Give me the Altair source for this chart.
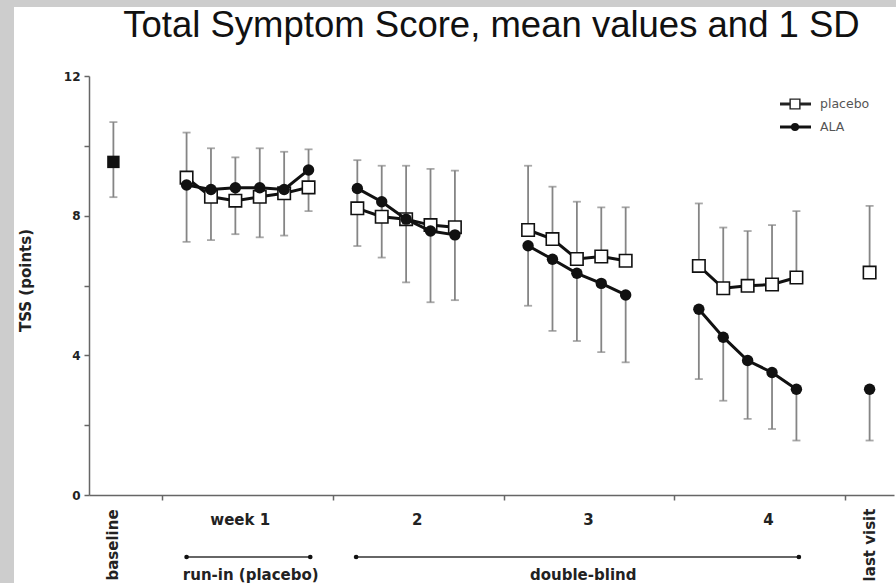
import altair as alt
import pandas as pd

# ---------------- data ----------------
days = [1, 2, 3, 4, 5, 6, 8, 9, 10, 11, 12, 15, 16, 17, 18, 19, 22, 23, 24, 25, 26, 29]
segment = [1] * 6 + [2] * 5 + [3] * 5 + [4] * 5 + [5]
placebo_mean = [9.09, 8.54, 8.43, 8.54, 8.64, 8.81, 8.21, 7.97, 7.90, 7.73, 7.67,
                7.59, 7.33, 6.76, 6.83, 6.71, 6.56, 5.92, 5.99, 6.03, 6.23, 6.37]
placebo_upper = [10.38, 9.93, 9.67, 9.93, 9.83, 9.90, 9.59, 9.43, 9.43, 9.34, 9.29,
                 9.43, 8.83, 8.40, 8.24, 8.24, 8.35, 7.66, 7.56, 7.73, 8.13, 8.28]
ala_mean = [8.88, 8.75, 8.80, 8.80, 8.75, 9.31, 8.78, 8.40, 7.90, 7.56, 7.45,
            7.14, 6.75, 6.35, 6.06, 5.73, 5.32, 4.52, 3.85, 3.51, 3.03, 3.03]
ala_lower = [7.25, 7.30, 7.47, 7.38, 7.43, 8.13, 7.13, 6.80, 6.09, 5.52, 5.58,
             5.42, 4.70, 4.41, 4.09, 3.80, 3.32, 2.70, 2.18, 1.89, 1.56, 1.56]

baseline_day = [-2]
baseline_mean = [9.54]
baseline_upper = [10.68]
baseline_lower = [8.53]

week_labels = ["week 1", "2", "3", "4"]
week_label_pos = [3.2, 10.45, 17.47, 24.85]
rot_labels = ["baseline", "last visit"]
rot_label_pos = [-2, 29]
period_names = ["run-in (placebo)", "double-blind"]
period_start = [1.0, 7.95]
period_end = [6.07, 26.1]
period_label_pos = [3.63, 17.26]

legend_names = ["placebo", "ALA"]
title_text = "Total Symptom Score, mean values and 1 SD"

# ---------------- tables ----------------
df_p = pd.DataFrame({"day": days, "mean": placebo_mean, "upper": placebo_upper, "seg": segment})
df_a = pd.DataFrame({"day": days, "mean": ala_mean, "lower": ala_lower, "seg": segment})
df_b = pd.DataFrame({"day": baseline_day, "mean": baseline_mean,
                     "upper": baseline_upper, "lower": baseline_lower})
df_w = pd.DataFrame({"pos": week_label_pos, "label": week_labels})
df_r = pd.DataFrame({"pos": rot_label_pos, "label": rot_labels})
df_per = pd.DataFrame({"start": period_start, "end": period_end,
                       "mid": period_label_pos, "name": period_names})
df_per_ends = pd.DataFrame({"pos": period_start + period_end})
df_one = pd.DataFrame({"a": [0]})
df_leg = pd.DataFrame({"name": legend_names})

BOLD = "DejaVu Sans"
ERR = "#858585"

xscale = alt.Scale(domain=[-3, 30], nice=False, zero=False)
yscale = alt.Scale(domain=[0, 12], nice=False, zero=False)

x_axis = alt.Axis(values=[0, 7, 14, 21, 28], labels=False, title=None, grid=False,
                  domainColor="#666666", domainWidth=1.5, tickColor="#666666",
                  tickSize=5, tickWidth=1.5, zindex=1)
y_axis = alt.Axis(values=[0, 2, 4, 6, 8, 10, 12],
                  labelExpr="datum.value % 4 == 0 ? datum.label : ''",
                  title="TSS (points)", grid=False, zindex=1,
                  domainColor="#666666", domainWidth=1.5, tickColor="#666666",
                  tickSize=5, tickWidth=1.5,
                  labelFont=BOLD, labelFontWeight="bold", labelFontSize=12,
                  labelColor="#222222", labelPadding=4,
                  titleFont=BOLD, titleFontWeight="bold", titleFontSize=15,
                  titleColor="#222222", titleX=-64, titleY=204, titleAngle=270,
                  titleAlign="center", titleBaseline="middle")

# white panel behind the figure
panel = alt.Chart(df_one).mark_rect(color="white").encode(
    x=alt.value(-75), x2=alt.value(807), y=alt.value(-69), y2=alt.value(507))

# error bars
p_err = alt.Chart(df_p).mark_rule(color=ERR, strokeWidth=1.8).encode(
    x=alt.X("day:Q", scale=xscale, axis=x_axis),
    y=alt.Y("mean:Q", scale=yscale, axis=y_axis),
    y2="upper:Q")
p_cap = alt.Chart(df_p).mark_tick(color=ERR, orient="horizontal", size=8, thickness=1.8).encode(
    x="day:Q", y="upper:Q")
a_err = alt.Chart(df_a).mark_rule(color=ERR, strokeWidth=1.8).encode(
    x="day:Q", y="lower:Q", y2="mean:Q")
a_cap = alt.Chart(df_a).mark_tick(color=ERR, orient="horizontal", size=8, thickness=1.8).encode(
    x="day:Q", y="lower:Q")
b_err = alt.Chart(df_b).mark_rule(color=ERR, strokeWidth=1.8).encode(
    x="day:Q", y="lower:Q", y2="upper:Q")
b_cap1 = alt.Chart(df_b).mark_tick(color=ERR, orient="horizontal", size=8, thickness=1.8).encode(
    x="day:Q", y="upper:Q")
b_cap2 = alt.Chart(df_b).mark_tick(color=ERR, orient="horizontal", size=8, thickness=1.8).encode(
    x="day:Q", y="lower:Q")

# series
p_line = alt.Chart(df_p).mark_line(color="#111111", strokeWidth=3).encode(
    x="day:Q", y="mean:Q", detail="seg:N")
p_pts = alt.Chart(df_p).mark_point(shape="square", filled=True, fill="white", stroke="#111111",
                                   strokeWidth=1.6, size=155, opacity=1).encode(
    x="day:Q", y="mean:Q")
a_line = alt.Chart(df_a).mark_line(color="#111111", strokeWidth=3).encode(
    x="day:Q", y="mean:Q", detail="seg:N")
a_pts = alt.Chart(df_a).mark_point(shape="circle", filled=True, color="#111111",
                                   size=130, opacity=1).encode(
    x="day:Q", y="mean:Q")
b_pts = alt.Chart(df_b).mark_point(shape="square", filled=True, color="#111111",
                                   size=155, opacity=1).encode(
    x="day:Q", y="mean:Q")

# category labels under the axis
wk_text = alt.Chart(df_w).mark_text(font=BOLD, fontWeight="bold", fontSize=15, color="#222222",
                                    align="center", baseline="alphabetic").encode(
    x="pos:Q", y=alt.value(449), text="label:N")
rot_text = alt.Chart(df_r).mark_text(font=BOLD, fontWeight="bold", fontSize=15, color="#222222",
                                     align="center", baseline="middle", angle=270).encode(
    x="pos:Q", y=alt.value(469), text="label:N")
per_rule = alt.Chart(df_per).mark_rule(color="#333333", strokeWidth=1.3).encode(
    x="start:Q", x2="end:Q", y=alt.value(481))
per_dots = alt.Chart(df_per_ends).mark_point(shape="circle", filled=True, color="#111111",
                                             size=22, opacity=1).encode(
    x="pos:Q", y=alt.value(481))
per_text = alt.Chart(df_per).mark_text(font=BOLD, fontWeight="bold", fontSize=15, color="#222222",
                                       align="center", baseline="alphabetic").encode(
    x="mid:Q", y=alt.value(504), text="name:N")

# legend (top right)
leg_p_line = alt.Chart(df_one).mark_rule(color="#222222", strokeWidth=3).encode(
    x=alt.value(691), x2=alt.value(722), y=alt.value(28))
leg_p_pt = alt.Chart(df_one).mark_point(shape="square", filled=True, fill="white", stroke="#222222",
                                        strokeWidth=1.4, size=95, opacity=1).encode(
    x=alt.value(706), y=alt.value(28))
leg_a_line = alt.Chart(df_one).mark_rule(color="#111111", strokeWidth=3).encode(
    x=alt.value(691), x2=alt.value(722), y=alt.value(51))
leg_a_pt = alt.Chart(df_one).mark_point(shape="circle", filled=True, color="#111111",
                                        size=65, opacity=1).encode(
    x=alt.value(706), y=alt.value(51))
leg_text_p = alt.Chart(df_leg).transform_filter("datum.name == 'placebo'").mark_text(
    font="DejaVu Sans", fontSize=12.5, color="#555555", align="left", baseline="middle").encode(
    x=alt.value(731), y=alt.value(28), text="name:N")
leg_text_a = alt.Chart(df_leg).transform_filter("datum.name == 'ALA'").mark_text(
    font="DejaVu Sans", fontSize=12.5, color="#555555", align="left", baseline="middle").encode(
    x=alt.value(731), y=alt.value(51), text="name:N")

# title
title = alt.Chart(pd.DataFrame({"t": [title_text]})).mark_text(
    font="Liberation Sans", fontSize=36.5, color="#111111", align="center",
    baseline="alphabetic").encode(x=alt.value(402.5), y=alt.value(-39), text="t:N")

chart = alt.layer(
    panel, p_err, p_cap, a_err, a_cap, b_err, b_cap1, b_cap2,
    p_line, p_pts, a_line, a_pts, b_pts,
    wk_text, rot_text, per_rule, per_dots, per_text,
    leg_p_line, leg_p_pt, leg_a_line, leg_a_pt, leg_text_p, leg_text_a, title
).properties(
    width=805, height=419, autosize="none",
    padding={"left": 89, "top": 76, "right": 2, "bottom": 88},
    background="#cdcdcd"
).configure_view(stroke=None)

chart.save("out.html", embed_options={"renderer": "svg", "actions": False})
